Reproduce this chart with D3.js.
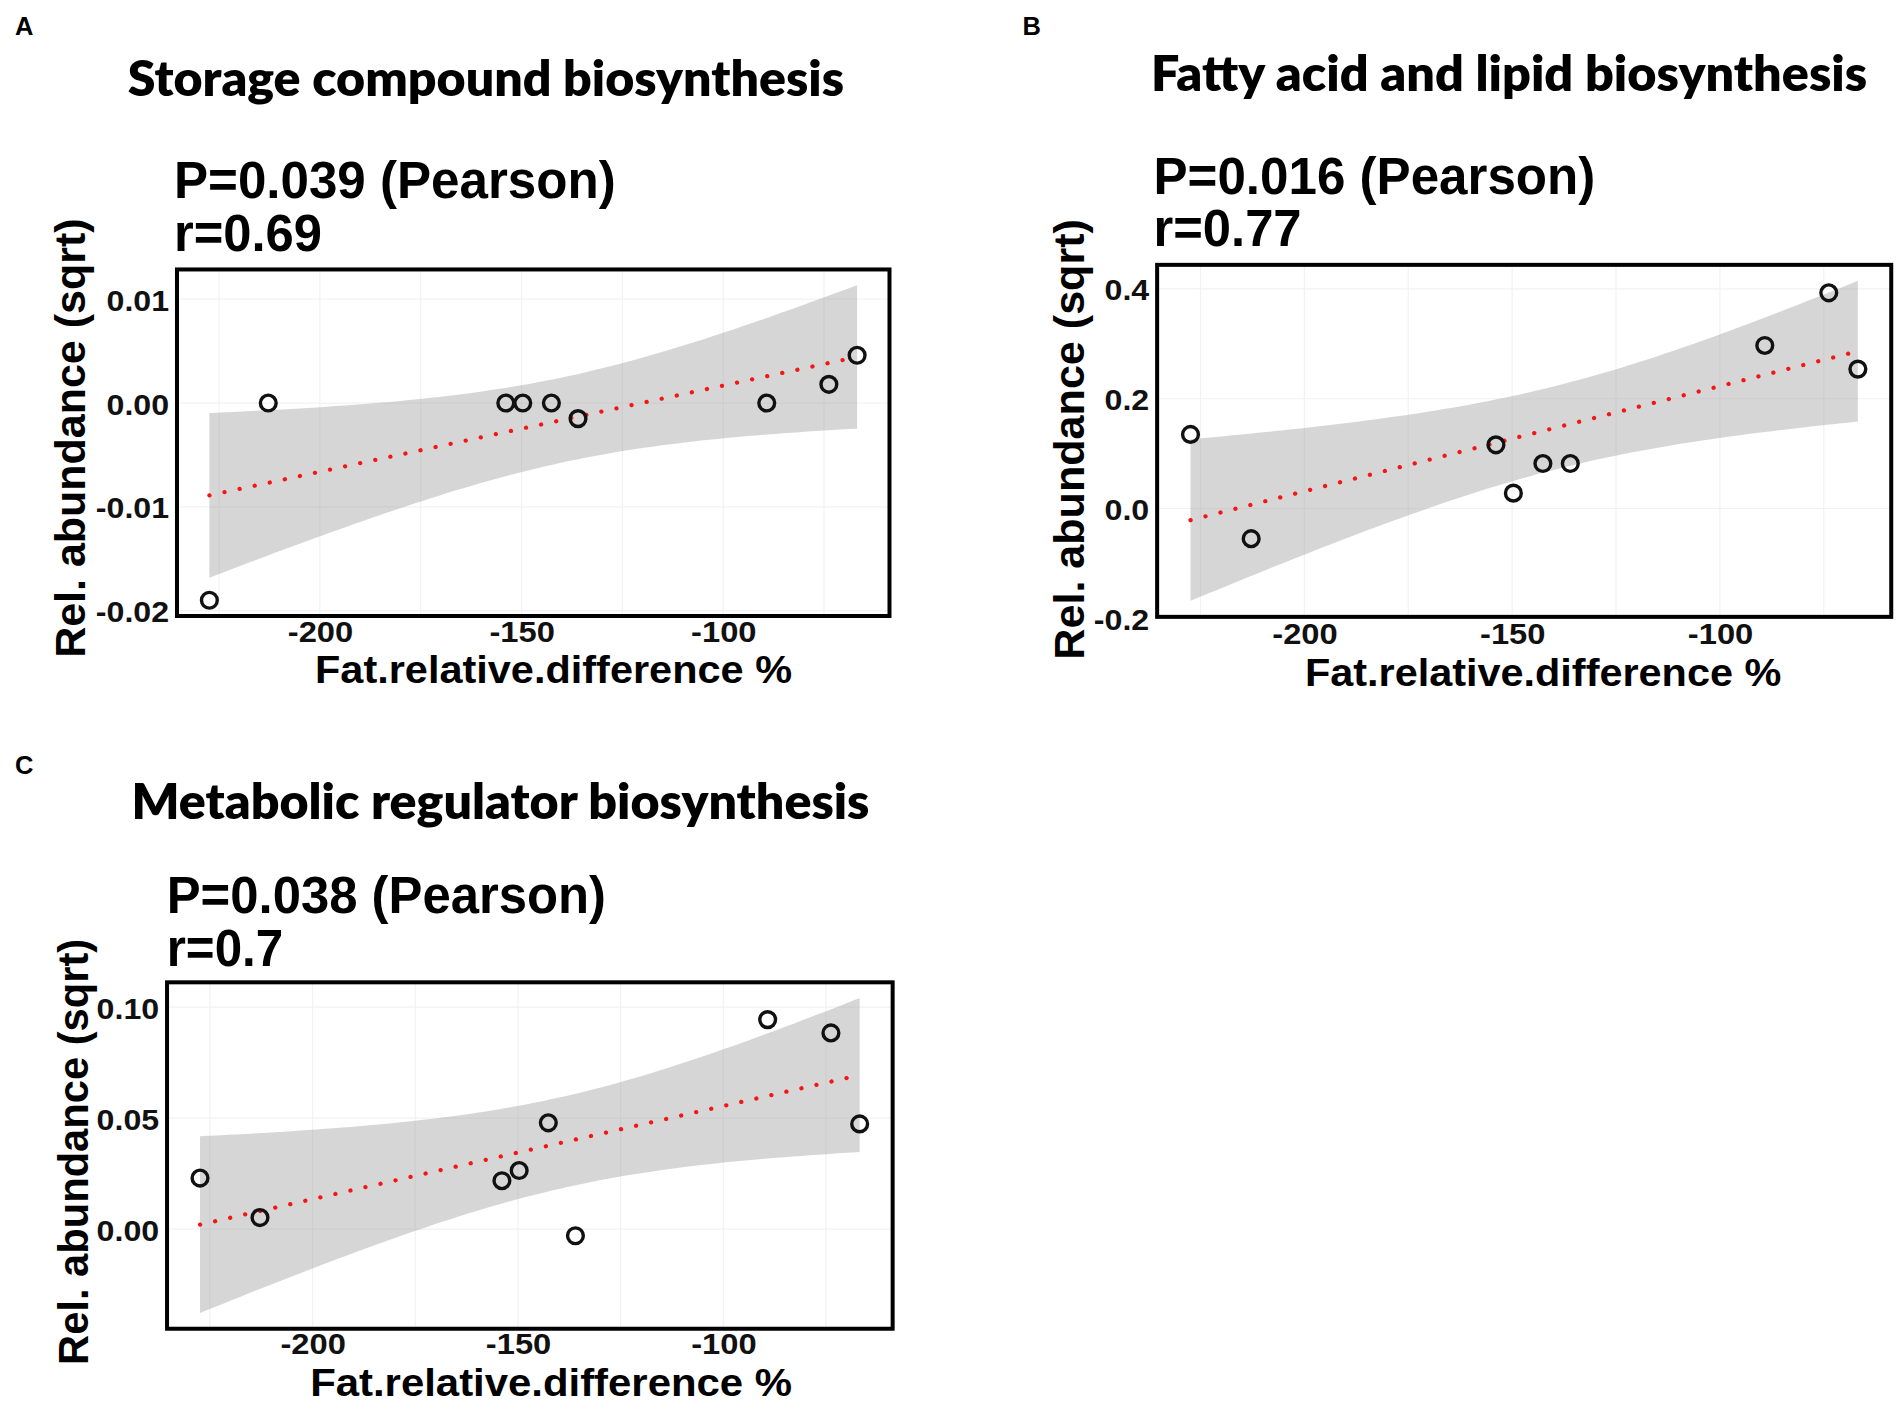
<!DOCTYPE html>
<html lang="en">
<head>
    <meta charset="UTF-8">
    <title>Fat relative difference vs. relative abundance</title>
    <style>
        body, html {
            margin: 0;
            padding: 0;
            background: #fff;
        }
        svg { display: block; }
    </style>
    <script src="https://d3js.org/d3.v7.min.js"></script>
</head>
<body>
    <div id="chart"></div>
    <script>
        // values (9 samples, same x in every panel)
        const fatDiff = [-227.4, -212.8, -153.9, -149.7, -142.6, -136.0, -89.2, -73.8, -66.8];
        const storageAbund = [-0.0190, 0, 0, 0, 0, -0.0015, 0, 0.0018, 0.0046];
        const lipidAbund = [0.135, -0.055, 0.116, 0.028, 0.082, 0.082, 0.297, 0.393, 0.254];
        const regulatorAbund = [0.0230, 0.0052, 0.0218, 0.0264, 0.0479, -0.0030, 0.0944, 0.0884, 0.0474];

        const panelLetters = ["A", "B", "C"];
        const panelTitles = ["Storage compound biosynthesis", "Fatty acid and lipid biosynthesis", "Metabolic regulator biosynthesis"];
        const pLabels = ["P=0.039 (Pearson)", "P=0.016 (Pearson)", "P=0.038 (Pearson)"];
        const rLabels = ["r=0.69", "r=0.77", "r=0.7"];
        const xTicks = [-200, -150, -100];
        const yTicksA = [-0.02, -0.01, 0.00, 0.01];
        const yTicksB = [-0.2, 0.0, 0.2, 0.4];
        const yTicksC = [0.00, 0.05, 0.10];
        const xTitle = "Fat.relative.difference %";
        const yTitle = "Rel. abundance (sqrt)";

        // layout, in the 1568x1160 coordinate space of the viewBox
        const panels = [
            { y: storageAbund, yTicks: yTicksA, dec: 2,
              box: { x: 145.5, y: 222, w: 587, h: 285.5 }, letter: [12, 29],
              title: { cx: 400, y: 79, len: 590 }, stats: { x: 143, pY: 163, rY: 207, pLen: 364, rLen: 122 },
              xTickY: 528.5, xt: { cx: 455.7, y: 563, len: 393 }, yt: { cx: 57, cy: 361, len: 362 } },
            { y: lipidAbund, yTicks: yTicksB, dec: 1,
              box: { x: 953, y: 218.2, w: 604.8, h: 290 }, letter: [842, 29],
              title: { cx: 1243, y: 75, len: 590 }, stats: { x: 950, pY: 160, rY: 203, pLen: 364, rLen: 122 },
              xTickY: 530.5, xt: { cx: 1271, y: 565, len: 392.5 }, yt: { cx: 880, cy: 362, len: 363 } },
            { y: regulatorAbund, yTicks: yTicksC, dec: 2,
              box: { x: 137.3, y: 809.3, w: 597.8, h: 285.4 }, letter: [12, 638],
              title: { cx: 412, y: 675, len: 608 }, stats: { x: 137, pY: 752, rY: 796, pLen: 362, rLen: 96 },
              xTickY: 1115.5, xt: { cx: 453.7, y: 1150, len: 397 }, yt: { cx: 59.5, cy: 949, len: 351 } }
        ];

        const svg = d3.select("#chart").append("svg")
            .attr("width", 1904)
            .attr("height", 1408)
            .attr("viewBox", "0 0 1568 1160");

        const sansBold = "'Liberation Sans', Arial, sans-serif";
        const titleFont = "Lato, 'Open Sans', sans-serif";
        const T975_DF7 = 2.364624; // t quantile for 95% CI, n = 9

        // linear fit with confidence band, as geom_smooth(method = "lm")
        function lmBand(xs, ys) {
            const n = xs.length;
            const mx = d3.mean(xs), my = d3.mean(ys);
            const sxx = d3.sum(xs, x => (x - mx) ** 2);
            const sxy = d3.sum(xs, (x, i) => (x - mx) * (ys[i] - my));
            const b = sxy / sxx, a = my - b * mx;
            const rss = d3.sum(xs, (x, i) => (ys[i] - a - b * x) ** 2);
            const s = Math.sqrt(rss / (n - 2));
            const [x0, x1] = d3.extent(xs);
            return d3.range(80).map(k => {
                const x = x0 + (x1 - x0) * k / 79;
                const fit = a + b * x;
                const se = s * Math.sqrt(1 / n + (x - mx) ** 2 / sxx);
                return { x, fit, lo: fit - T975_DF7 * se, hi: fit + T975_DF7 * se };
            });
        }

        // the figure's labels are a bit wider than plain Arial bold
        function stretch(sel, k) {
            sel.each(function () {
                const w = this.getComputedTextLength();
                d3.select(this).attr("textLength", w * k).attr("lengthAdjust", "spacingAndGlyphs");
            });
        }

        panels.forEach((p, i) => {
            const g = svg.append("g");
            const band = lmBand(fatDiff, p.y);

            const xr = d3.extent(fatDiff);
            const xPad = (xr[1] - xr[0]) * 0.05;
            const x = d3.scaleLinear()
                .domain([xr[0] - xPad, xr[1] + xPad])
                .range([p.box.x, p.box.x + p.box.w]);

            const yMin = Math.min(d3.min(p.y), d3.min(band, d => d.lo));
            const yMax = Math.max(d3.max(p.y), d3.max(band, d => d.hi));
            const yPad = (yMax - yMin) * 0.05;
            const y = d3.scaleLinear()
                .domain([yMin - yPad, yMax + yPad])
                .range([p.box.y + p.box.h, p.box.y]);

            // faint grid
            const xMinor = [-225, -175, -125, -75];
            g.selectAll(".gx").data(xTicks.concat(xMinor)).join("line")
                .attr("x1", d => x(d)).attr("x2", d => x(d))
                .attr("y1", p.box.y).attr("y2", p.box.y + p.box.h)
                .attr("stroke", "#f2f2f2").attr("stroke-width", 1);
            g.selectAll(".gy").data(p.yTicks).join("line")
                .attr("x1", p.box.x).attr("x2", p.box.x + p.box.w)
                .attr("y1", d => y(d)).attr("y2", d => y(d))
                .attr("stroke", "#f2f2f2").attr("stroke-width", 1);

            // confidence band
            g.append("path")
                .datum(band)
                .attr("fill", "#999999")
                .attr("fill-opacity", 0.4)
                .attr("d", d3.area().x(d => x(d.x)).y0(d => y(d.lo)).y1(d => y(d.hi)));

            // fitted line
            g.append("path")
                .datum(band)
                .attr("fill", "none")
                .attr("stroke", "#f51515")
                .attr("stroke-width", 3.5)
                .attr("stroke-linecap", "round")
                .attr("stroke-dasharray", "0.1 12.6")
                .attr("d", d3.line().x(d => x(d.x)).y(d => y(d.fit)));

            // points
            g.selectAll(".pt").data(fatDiff).join("circle")
                .attr("cx", d => x(d))
                .attr("cy", (d, k) => y(p.y[k]))
                .attr("r", 6.5)
                .attr("fill", "none")
                .attr("stroke", "#111")
                .attr("stroke-width", 2.8);

            // panel border
            g.append("rect")
                .attr("x", p.box.x).attr("y", p.box.y)
                .attr("width", p.box.w).attr("height", p.box.h)
                .attr("fill", "none").attr("stroke", "#000").attr("stroke-width", 3.3);

            // axes (labels only, no tick marks)
            const xAxis = g.append("g")
                .attr("transform", `translate(0,${p.box.y + p.box.h})`)
                .call(d3.axisBottom(x).tickValues(xTicks).tickSize(0).tickPadding(0).tickFormat(d => String(d)));
            xAxis.select(".domain").remove();
            xAxis.selectAll("text")
                .attr("y", p.xTickY - p.box.y - p.box.h).attr("dy", null)
                .attr("font-family", sansBold).attr("font-weight", "bold")
                .attr("font-size", 24.5).attr("fill", "#111")
                .call(stretch, 1.1);

            const yAxis = g.append("g")
                .attr("transform", `translate(${p.box.x},0)`)
                .call(d3.axisLeft(y).tickValues(p.yTicks).tickSize(0).tickPadding(6.5).tickFormat(d => d.toFixed(p.dec)));
            yAxis.select(".domain").remove();
            yAxis.selectAll("text")
                .attr("dy", "0.36em")
                .attr("font-family", sansBold).attr("font-weight", "bold")
                .attr("font-size", 25).attr("fill", "#111")
                .call(stretch, 1.06);

            // axis titles
            g.append("text")
                .attr("x", p.xt.cx).attr("y", p.xt.y)
                .attr("text-anchor", "middle")
                .attr("font-family", sansBold).attr("font-weight", "bold")
                .attr("font-size", 32)
                .attr("textLength", p.xt.len).attr("lengthAdjust", "spacingAndGlyphs")
                .text(xTitle);
            g.append("text")
                .attr("transform", `translate(${p.yt.cx},${p.yt.cy}) rotate(-90)`)
                .attr("dy", "0.36em")
                .attr("text-anchor", "middle")
                .attr("font-family", sansBold).attr("font-weight", "bold")
                .attr("font-size", 35)
                .attr("textLength", p.yt.len).attr("lengthAdjust", "spacingAndGlyphs")
                .text(yTitle);

            // statistics
            g.append("text")
                .attr("x", p.stats.x).attr("y", p.stats.pY)
                .attr("font-family", sansBold).attr("font-weight", "bold")
                .attr("font-size", 42)
                .attr("textLength", p.stats.pLen).attr("lengthAdjust", "spacingAndGlyphs")
                .text(pLabels[i]);
            g.append("text")
                .attr("x", p.stats.x).attr("y", p.stats.rY)
                .attr("font-family", sansBold).attr("font-weight", "bold")
                .attr("font-size", 42)
                .attr("textLength", p.stats.rLen).attr("lengthAdjust", "spacingAndGlyphs")
                .text(rLabels[i]);

            // panel title and letter
            g.append("text")
                .attr("x", p.title.cx).attr("y", p.title.y)
                .attr("text-anchor", "middle")
                .attr("font-family", titleFont).attr("font-weight", 800)
                .attr("font-size", 40)
                .attr("textLength", p.title.len).attr("lengthAdjust", "spacingAndGlyphs")
                .text(panelTitles[i]);
            g.append("text")
                .attr("x", p.letter[0]).attr("y", p.letter[1])
                .attr("font-family", sansBold).attr("font-weight", "bold")
                .attr("font-size", 21)
                .text(panelLetters[i]);
        });
    </script>
</body>
</html>
